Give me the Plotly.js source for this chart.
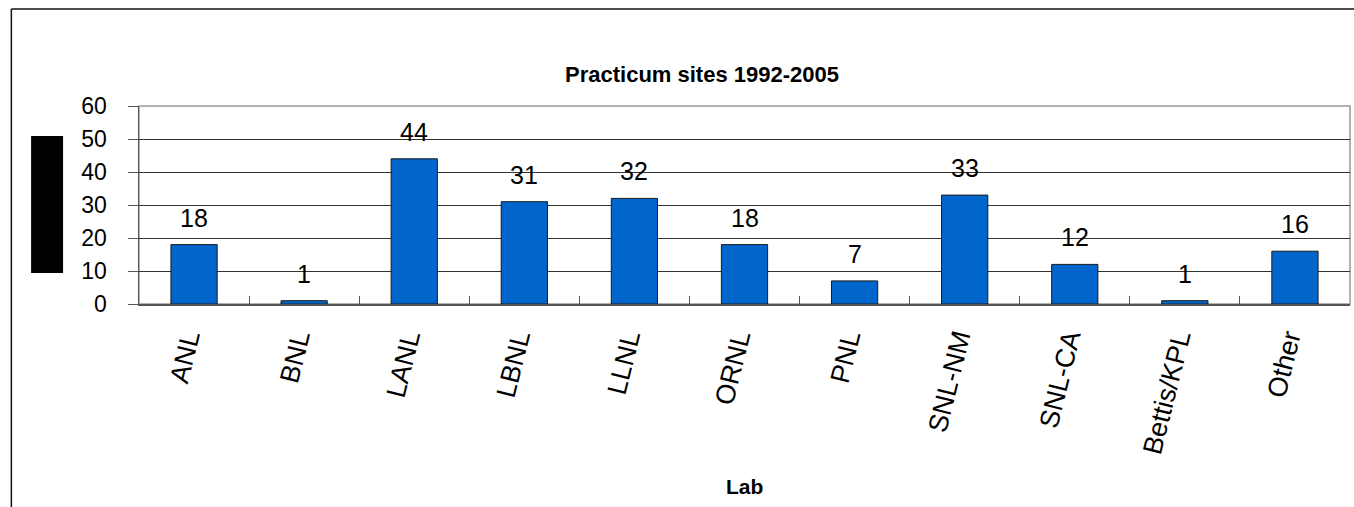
<!DOCTYPE html>
<html><head><meta charset="utf-8">
<script src="https://cdn.plot.ly/plotly-3.0.1.min.js"></script>
<style>html,body{margin:0;padding:0;background:#fff;}#chart{width:1354px;height:507px;}</style>
</head><body><div id="chart"></div>
<script>
const labs = ["ANL","BNL","LANL","LBNL","LLNL","ORNL","PNL","SNL-NM","SNL-CA","Bettis/KPL","Other"];
const counts = [18,1,44,31,32,18,7,33,12,1,16];
const yTicks = [0,10,20,30,40,50,60];
const FONT = "Liberation Sans, Arial, sans-serif";

const trace = {
  type: "bar", x: labs, y: counts, width: 0.42,
  marker: {color: "#0066CC", line: {color: "#1a1a1a", width: 1}},
  hoverinfo: "x+y"
};

const annotations = labs.map((l, i) => ({
  x: l, y: counts[i], xref: "x", yref: "y", text: String(counts[i]),
  showarrow: false, yanchor: "bottom", yshift: 11,
  font: {family: FONT, size: 25, color: "#000"}
}));
annotations.push({
  x: 0.5, y: -0.924, xref: "paper", yref: "paper", text: "<b>Lab</b>",
  showarrow: false, yanchor: "middle", font: {family: FONT, size: 21, color: "#000"}
});
annotations.push({
  x: 0.465, y: 1.157, xref: "paper", yref: "paper", text: "<b>Practicum sites 1992-2005</b>",
  showarrow: false, yanchor: "middle", xanchor: "center",
  font: {family: FONT, size: 22, color: "#000"}
});

const layout = {
  width: 1354, height: 507,
  margin: {l: 139, r: 4, t: 106, b: 203},
  paper_bgcolor: "#fff", plot_bgcolor: "#fff",
  showlegend: false,
  xaxis: {
    type: "category", tickson: "boundaries", ticks: "inside", ticklen: 8, tickcolor: "#555",
    showline: true, linecolor: "#555", linewidth: 1.5, showgrid: false,
    tickangle: -76, ticklabelstandoff: 6, ticklabelshift: -7,
    tickfont: {family: FONT, size: 27, color: "#000"}, fixedrange: true
  },
  yaxis: {
    range: [0, 60], tickvals: yTicks, ticktext: yTicks.map(String),
    ticks: "outside", ticklen: 10, tickcolor: "#555",
    showline: true, linecolor: "#555", linewidth: 1.5,
    showgrid: true, gridcolor: "#333", gridwidth: 1, zeroline: false,
    ticklabelstandoff: 16,
    tickfont: {family: FONT, size: 23, color: "#000"}, fixedrange: true
  },
  annotations: annotations,
  shapes: [
    {type: "rect", xref: "paper", yref: "paper", x0: 0, x1: 1, y0: 0, y1: 1,
     line: {color: "#999", width: 1.5}, layer: "below"},
    {type: "rect", xref: "paper", yref: "paper", x0: -0.0891, x1: -0.0627, y0: 0.157, y1: 0.848,
     fillcolor: "#000", line: {width: 0}},
    {type: "line", xref: "paper", yref: "paper", x0: -0.1054, x1: 1.01, y0: 1.49, y1: 1.49,
     line: {color: "#111", width: 1.5}},
    {type: "line", xref: "paper", yref: "paper", x0: -0.1054, x1: -0.1054, y0: 1.49, y1: -1.1,
     line: {color: "#111", width: 1.5}}
  ]
};
Plotly.newPlot("chart", [trace], layout, {displayModeBar: false, staticPlot: true});
</script></body></html>
